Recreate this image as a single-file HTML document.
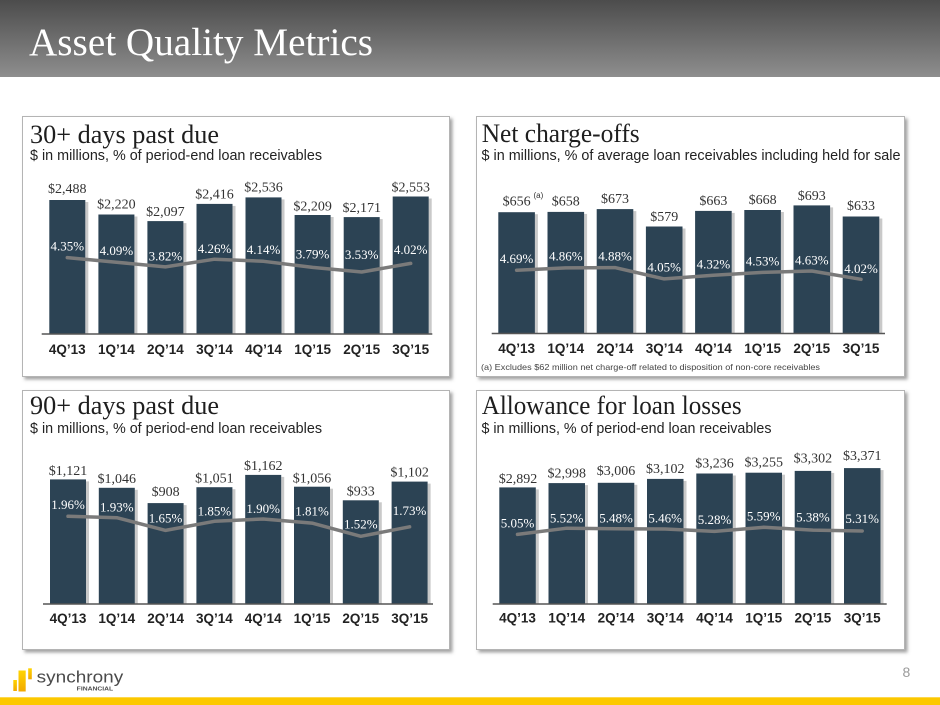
<!DOCTYPE html>
<html><head><meta charset="utf-8"><style>
html,body{margin:0;padding:0;background:#fff;}
svg{display:block;}
.ti{font-family:"Liberation Serif",serif;fill:#1e1e1e;}
.sub{font-family:"Liberation Sans",sans-serif;font-size:14.5px;fill:#222;}
.dl{font-family:"Liberation Serif",serif;font-size:14px;fill:#333;text-anchor:middle;}
.pl{font-family:"Liberation Serif",serif;font-size:13px;fill:#fff;text-anchor:middle;}
.xl{font-family:"Liberation Sans",sans-serif;font-size:13.5px;font-weight:bold;fill:#222;text-anchor:middle;}
.bar{fill:#2c4354;}
.bs{fill:#c9c9c9;}
.ln{fill:none;stroke:#7a7a7a;stroke-width:3.5;stroke-linejoin:round;stroke-linecap:round;}
.ax{stroke:#555;stroke-width:1.5;}
.pn{fill:#fff;stroke:#b4b4b4;stroke-width:1;}
</style></head><body>
<svg width="940" height="705" viewBox="0 0 940 705" xmlns="http://www.w3.org/2000/svg">
<defs>
<linearGradient id="hg" x1="0" y1="0" x2="0" y2="1">
<stop offset="0" stop-color="#4c4c4c"/><stop offset="1" stop-color="#8e8e8e"/>
</linearGradient>
<linearGradient id="yg" x1="0" y1="1" x2="0" y2="0">
<stop offset="0" stop-color="#f2a900"/><stop offset="1" stop-color="#ffd400"/>
</linearGradient>
<filter id="sh" x="-5%" y="-5%" width="112%" height="115%">
<feDropShadow dx="2.5" dy="2.5" stdDeviation="1.6" flood-color="#555" flood-opacity="0.55"/>
</filter>
</defs>
<rect x="0" y="0" width="940" height="77" fill="url(#hg)"/>
<text x="29" y="55" font-family="Liberation Serif, serif" font-size="39" fill="#fff" textLength="344" lengthAdjust="spacingAndGlyphs">Asset Quality Metrics</text>

<!-- Panels -->
<rect class="pn" x="22.5" y="116.5" width="427" height="260" filter="url(#sh)"/>
<rect class="pn" x="22.5" y="390.5" width="427" height="259" filter="url(#sh)"/>
<rect class="pn" x="476.5" y="116.5" width="428" height="260" filter="url(#sh)"/>
<rect class="pn" x="476.5" y="390.5" width="428" height="259" filter="url(#sh)"/>

<!-- Panel 1 -->
<text class="ti" x="30" y="143" font-size="26.5" textLength="189" lengthAdjust="spacingAndGlyphs">30+ days past due</text>
<text class="sub" x="30" y="160" textLength="292" lengthAdjust="spacingAndGlyphs">$ in millions, % of period-end loan receivables</text>
<g>
<rect class="bs" x="85.3" y="202" width="3" height="132"/><rect class="bar" x="49.3" y="200" width="36" height="134"/>
<rect class="bs" x="134.4" y="216.5" width="3" height="117.5"/><rect class="bar" x="98.4" y="214.5" width="36" height="119.5"/>
<rect class="bs" x="183.4" y="223.1" width="3" height="110.9"/><rect class="bar" x="147.4" y="221.1" width="36" height="112.9"/>
<rect class="bs" x="232.5" y="205.9" width="3" height="128.1"/><rect class="bar" x="196.5" y="203.9" width="36" height="130.1"/>
<rect class="bs" x="281.5" y="199.4" width="3" height="134.6"/><rect class="bar" x="245.5" y="197.4" width="36" height="136.6"/>
<rect class="bs" x="330.6" y="217" width="3" height="117"/><rect class="bar" x="294.6" y="215" width="36" height="119"/>
<rect class="bs" x="379.7" y="219.1" width="3" height="114.9"/><rect class="bar" x="343.7" y="217.1" width="36" height="116.9"/>
<rect class="bs" x="428.7" y="198.5" width="3" height="135.5"/><rect class="bar" x="392.7" y="196.5" width="36" height="137.5"/>
</g>
<line class="ax" x1="41.7" y1="334" x2="432.3" y2="334"/>
<polyline class="ln" points="67.3,257.6 116.4,262.2 165.4,266.9 214.5,259.2 263.5,261.3 312.6,267.4 361.7,272 410.7,263.4"/>
<text class="dl" x="67.3" y="193">$2,488</text>
<text class="dl" x="116.4" y="208.5">$2,220</text>
<text class="dl" x="165.4" y="216">$2,097</text>
<text class="dl" x="214.5" y="198.5">$2,416</text>
<text class="dl" x="263.5" y="191.5">$2,536</text>
<text class="dl" x="312.6" y="210.5">$2,209</text>
<text class="dl" x="361.7" y="212">$2,171</text>
<text class="dl" x="410.7" y="191.5">$2,553</text>
<text class="pl" x="67.3" y="250.7">4.35%</text>
<text class="pl" x="116.4" y="255">4.09%</text>
<text class="pl" x="165.4" y="260.7">3.82%</text>
<text class="pl" x="214.5" y="253">4.26%</text>
<text class="pl" x="263.5" y="254">4.14%</text>
<text class="pl" x="312.6" y="258.3">3.79%</text>
<text class="pl" x="361.7" y="259">3.53%</text>
<text class="pl" x="410.7" y="254">4.02%</text>
<text class="xl" x="67.3" y="354">4Q’13</text>
<text class="xl" x="116.4" y="354">1Q’14</text>
<text class="xl" x="165.4" y="354">2Q’14</text>
<text class="xl" x="214.5" y="354">3Q’14</text>
<text class="xl" x="263.5" y="354">4Q’14</text>
<text class="xl" x="312.6" y="354">1Q’15</text>
<text class="xl" x="361.7" y="354">2Q’15</text>
<text class="xl" x="410.7" y="354">3Q’15</text>

<!-- Panel 2 -->
<text class="ti" x="30" y="414" font-size="26.5" textLength="189" lengthAdjust="spacingAndGlyphs">90+ days past due</text>
<text class="sub" x="30" y="433" textLength="292" lengthAdjust="spacingAndGlyphs">$ in millions, % of period-end loan receivables</text>
<g>
<rect class="bs" x="86" y="481.4" width="3" height="122.6"/><rect class="bar" x="50" y="479.4" width="36" height="124.6"/>
<rect class="bs" x="134.8" y="489.8" width="3" height="114.2"/><rect class="bar" x="98.8" y="487.8" width="36" height="116.2"/>
<rect class="bs" x="183.6" y="505.1" width="3" height="98.9"/><rect class="bar" x="147.6" y="503.1" width="36" height="100.9"/>
<rect class="bs" x="232.4" y="489.2" width="3" height="114.8"/><rect class="bar" x="196.4" y="487.2" width="36" height="116.8"/>
<rect class="bs" x="281.2" y="476.9" width="3" height="127.1"/><rect class="bar" x="245.2" y="474.9" width="36" height="129.1"/>
<rect class="bs" x="330" y="488.7" width="3" height="115.3"/><rect class="bar" x="294" y="486.7" width="36" height="117.3"/>
<rect class="bs" x="378.8" y="502.3" width="3" height="101.7"/><rect class="bar" x="342.8" y="500.3" width="36" height="103.7"/>
<rect class="bs" x="427.6" y="483.6" width="3" height="120.4"/><rect class="bar" x="391.6" y="481.6" width="36" height="122.4"/>
</g>
<line class="ax" x1="43" y1="604" x2="433" y2="604"/>
<polyline class="ln" points="68,516.3 116.8,517.7 165.6,530.4 214.4,521.3 263.2,519 312,523.1 360.8,536.3 409.6,526.8"/>
<text class="dl" x="68" y="475">$1,121</text>
<text class="dl" x="116.8" y="483">$1,046</text>
<text class="dl" x="165.6" y="496">$908</text>
<text class="dl" x="214.4" y="482.3">$1,051</text>
<text class="dl" x="263.2" y="470">$1,162</text>
<text class="dl" x="312" y="482.3">$1,056</text>
<text class="dl" x="360.8" y="495.5">$933</text>
<text class="dl" x="409.6" y="476.5">$1,102</text>
<text class="pl" x="68" y="509">1.96%</text>
<text class="pl" x="116.8" y="511.3">1.93%</text>
<text class="pl" x="165.6" y="522.3">1.65%</text>
<text class="pl" x="214.4" y="515.7">1.85%</text>
<text class="pl" x="263.2" y="513">1.90%</text>
<text class="pl" x="312" y="515.7">1.81%</text>
<text class="pl" x="360.8" y="528.3">1.52%</text>
<text class="pl" x="409.6" y="515">1.73%</text>
<text class="xl" x="68" y="623">4Q’13</text>
<text class="xl" x="116.8" y="623">1Q’14</text>
<text class="xl" x="165.6" y="623">2Q’14</text>
<text class="xl" x="214.4" y="623">3Q’14</text>
<text class="xl" x="263.2" y="623">4Q’14</text>
<text class="xl" x="312" y="623">1Q’15</text>
<text class="xl" x="360.8" y="623">2Q’15</text>
<text class="xl" x="409.6" y="623">3Q’15</text>

<!-- Panel 3 -->
<text class="ti" x="481.7" y="142" font-size="26.5" textLength="158" lengthAdjust="spacingAndGlyphs">Net charge-offs</text>
<text class="sub" x="481.5" y="160" textLength="419" lengthAdjust="spacingAndGlyphs">$ in millions, % of average loan receivables including held for sale</text>
<g>
<rect class="bs" x="534.9" y="214.2" width="3" height="119.3"/><rect class="bar" x="498.3" y="212.2" width="36.6" height="121.3"/>
<rect class="bs" x="584.1" y="213.9" width="3" height="119.6"/><rect class="bar" x="547.5" y="211.9" width="36.6" height="121.6"/>
<rect class="bs" x="633.3" y="211.1" width="3" height="122.4"/><rect class="bar" x="596.7" y="209.1" width="36.6" height="124.4"/>
<rect class="bs" x="682.5" y="228.5" width="3" height="105"/><rect class="bar" x="645.9" y="226.5" width="36.6" height="107"/>
<rect class="bs" x="731.7" y="212.9" width="3" height="120.6"/><rect class="bar" x="695.1" y="210.9" width="36.6" height="122.6"/>
<rect class="bs" x="780.9" y="212" width="3" height="121.5"/><rect class="bar" x="744.3" y="210" width="36.6" height="123.5"/>
<rect class="bs" x="830.1" y="207.4" width="3" height="126.1"/><rect class="bar" x="793.5" y="205.4" width="36.6" height="128.1"/>
<rect class="bs" x="879.3" y="218.5" width="3" height="115"/><rect class="bar" x="842.7" y="216.5" width="36.6" height="117"/>
</g>
<line class="ax" x1="491.7" y1="333.5" x2="885" y2="333.5"/>
<polyline class="ln" points="516.6,270.2 565.8,267.9 615,267.6 664.2,278.9 713.4,275.2 762.6,272.4 811.8,271 861,279.3"/>
<text class="dl" x="516.6" y="205.5">$656</text>
<text x="533.5" y="198" font-family="Liberation Sans, sans-serif" font-size="8" fill="#333">(a)</text>
<text class="dl" x="565.8" y="205.5">$658</text>
<text class="dl" x="615" y="203">$673</text>
<text class="dl" x="664.2" y="221">$579</text>
<text class="dl" x="713.4" y="205">$663</text>
<text class="dl" x="762.6" y="204">$668</text>
<text class="dl" x="811.8" y="200">$693</text>
<text class="dl" x="861" y="210">$633</text>
<text class="pl" x="516.6" y="263">4.69%</text>
<text class="pl" x="565.8" y="260.7">4.86%</text>
<text class="pl" x="615" y="260.7">4.88%</text>
<text class="pl" x="664.2" y="271.7">4.05%</text>
<text class="pl" x="713.4" y="268.3">4.32%</text>
<text class="pl" x="762.6" y="265.7">4.53%</text>
<text class="pl" x="811.8" y="264.7">4.63%</text>
<text class="pl" x="861" y="273">4.02%</text>
<text class="xl" x="516.6" y="353">4Q’13</text>
<text class="xl" x="565.8" y="353">1Q’14</text>
<text class="xl" x="615" y="353">2Q’14</text>
<text class="xl" x="664.2" y="353">3Q’14</text>
<text class="xl" x="713.4" y="353">4Q’14</text>
<text class="xl" x="762.6" y="353">1Q’15</text>
<text class="xl" x="811.8" y="353">2Q’15</text>
<text class="xl" x="861" y="353">3Q’15</text>
<text x="481" y="370" font-family="Liberation Sans, sans-serif" font-size="8.5" fill="#444" textLength="339" lengthAdjust="spacingAndGlyphs">(a) Excludes $62 million net charge-off related to disposition of non-core receivables</text>

<!-- Panel 4 -->
<text class="ti" x="481.7" y="414" font-size="26.5" textLength="260" lengthAdjust="spacingAndGlyphs">Allowance for loan losses</text>
<text class="sub" x="481.5" y="433" textLength="290" lengthAdjust="spacingAndGlyphs">$ in millions, % of period-end loan receivables</text>
<g>
<rect class="bs" x="535.8" y="489.4" width="3" height="114.6"/><rect class="bar" x="499.3" y="487.4" width="36.5" height="116.6"/>
<rect class="bs" x="585" y="485.1" width="3" height="118.9"/><rect class="bar" x="548.5" y="483.1" width="36.5" height="120.9"/>
<rect class="bs" x="634.3" y="484.8" width="3" height="119.2"/><rect class="bar" x="597.8" y="482.8" width="36.5" height="121.2"/>
<rect class="bs" x="683.5" y="480.9" width="3" height="123.1"/><rect class="bar" x="647" y="478.9" width="36.5" height="125.1"/>
<rect class="bs" x="732.8" y="475.5" width="3" height="128.5"/><rect class="bar" x="696.3" y="473.5" width="36.5" height="130.5"/>
<rect class="bs" x="782" y="474.7" width="3" height="129.3"/><rect class="bar" x="745.5" y="472.7" width="36.5" height="131.3"/>
<rect class="bs" x="831.2" y="472.9" width="3" height="131.1"/><rect class="bar" x="794.7" y="470.9" width="36.5" height="133.1"/>
<rect class="bs" x="880.5" y="470.1" width="3" height="133.9"/><rect class="bar" x="844" y="468.1" width="36.5" height="135.9"/>
</g>
<line class="ax" x1="492.7" y1="604" x2="886.7" y2="604"/>
<polyline class="ln" points="517.5,534.4 566.7,528.2 616,528.8 665.2,529 714.5,531.4 763.7,527.3 812.9,530.1 862.2,531"/>
<text class="dl" x="518" y="483">$2,892</text>
<text class="dl" x="566.7" y="477.5">$2,998</text>
<text class="dl" x="616" y="475">$3,006</text>
<text class="dl" x="665.2" y="473">$3,102</text>
<text class="dl" x="714.5" y="467.5">$3,236</text>
<text class="dl" x="763.7" y="466.5">$3,255</text>
<text class="dl" x="812.9" y="462.5">$3,302</text>
<text class="dl" x="862.2" y="460">$3,371</text>
<text class="pl" x="517.5" y="527.3">5.05%</text>
<text class="pl" x="566.7" y="522.3">5.52%</text>
<text class="pl" x="616" y="522.3">5.48%</text>
<text class="pl" x="665.2" y="522.3">5.46%</text>
<text class="pl" x="714.5" y="524">5.28%</text>
<text class="pl" x="763.7" y="520.7">5.59%</text>
<text class="pl" x="812.9" y="521.7">5.38%</text>
<text class="pl" x="862.2" y="523">5.31%</text>
<text class="xl" x="517.5" y="622.7">4Q’13</text>
<text class="xl" x="566.7" y="622.7">1Q’14</text>
<text class="xl" x="616" y="622.7">2Q’14</text>
<text class="xl" x="665.2" y="622.7">3Q’14</text>
<text class="xl" x="714.5" y="622.7">4Q’14</text>
<text class="xl" x="763.7" y="622.7">1Q’15</text>
<text class="xl" x="812.9" y="622.7">2Q’15</text>
<text class="xl" x="862.2" y="622.7">3Q’15</text>

<!-- Page number -->
<text x="902.5" y="677" font-family="Liberation Sans, sans-serif" font-size="14" fill="#9a9a9a">8</text>

<!-- Logo -->
<rect x="13.3" y="680" width="3.6" height="11" fill="url(#yg)"/>
<rect x="18.5" y="670.5" width="7.2" height="21" fill="url(#yg)"/>
<rect x="28.2" y="668.3" width="3.6" height="11" fill="url(#yg)"/>
<text x="36.7" y="682.7" font-family="Liberation Sans, sans-serif" font-size="17" fill="#4a4a4a" textLength="86.5" lengthAdjust="spacingAndGlyphs">synchrony</text>
<text x="76.7" y="690.7" font-family="Liberation Sans, sans-serif" font-size="5.5" font-weight="bold" fill="#4a4a4a" textLength="36.5" lengthAdjust="spacingAndGlyphs">FINANCIAL</text>

<!-- Bottom yellow bar -->
<rect x="0" y="697.3" width="940" height="8" fill="#fcc800"/>
</svg>
</body></html>
